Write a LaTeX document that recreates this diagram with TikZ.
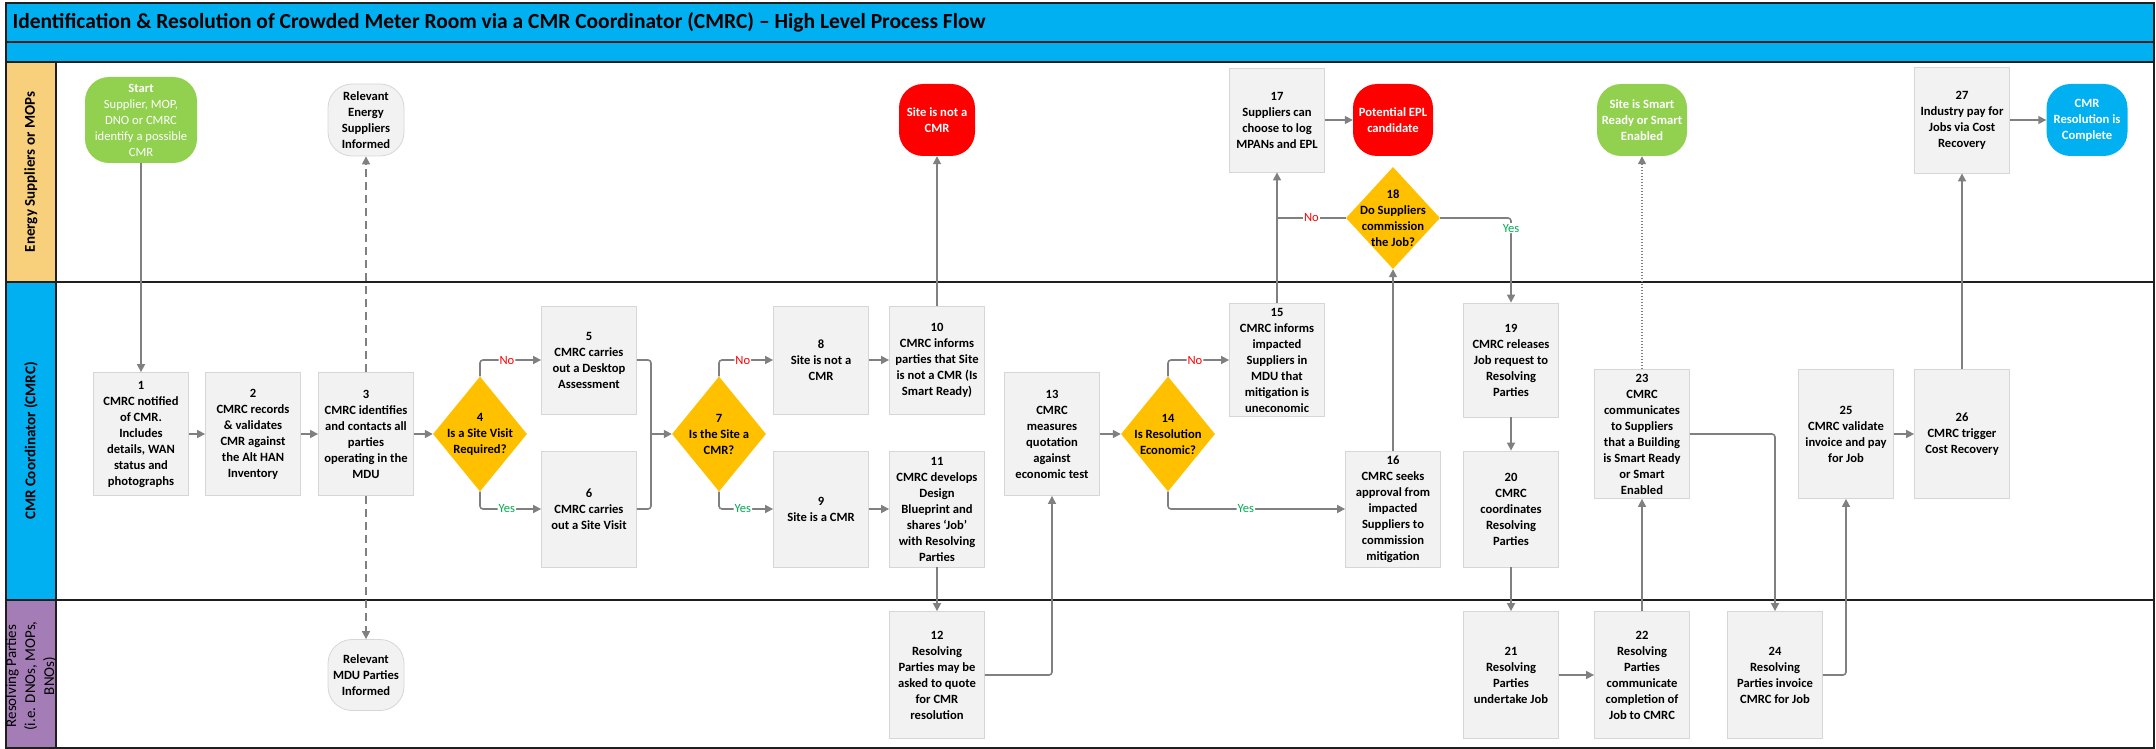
\documentclass[tikz,border=0pt]{standalone}
\usepackage{fontspec}
\setmainfont{Carlito}
\usetikzlibrary{shapes.geometric,arrows.meta}
\definecolor{titleblue}{HTML}{00B0F0}
\definecolor{laneorange}{HTML}{F8D07C}
\definecolor{lanepurple}{HTML}{A47DB6}
\definecolor{decgold}{HTML}{FFC000}
\definecolor{startgreen}{HTML}{92D050}
\definecolor{stopred}{HTML}{FF0000}
\definecolor{boxfill}{HTML}{F2F2F2}
\definecolor{boxline}{HTML}{D6D6D6}
\definecolor{flowgray}{HTML}{808080}
\definecolor{yesgreen}{HTML}{00B050}
\definecolor{framedark}{HTML}{1F1F1F}
\begin{document}
\begin{tikzpicture}[x=1pt,y=-1pt,
	lanebd/.style={draw=framedark,line width=1.6pt},
	procbox/.style={draw=boxline,fill=boxfill,line width=0.8pt,minimum width=95pt,inner sep=0pt,align=center,font=\bfseries\fontsize{12.6}{16}\selectfont},
	termbox/.style={rounded corners=24pt,minimum width=76pt,minimum height=72pt,inner sep=0pt,align=center,text=white,font=\bfseries\fontsize{12.6}{16}\selectfont},
	decision/.style={diamond,fill=decgold,inner sep=0pt,minimum width=94pt,minimum height=115pt},
	dtext/.style={align=center,font=\bfseries\fontsize{12.6}{16}\selectfont},
	flow/.style={draw=flowgray,line width=1.6pt,rounded corners=3pt},
	arr/.style={flow,-{Triangle[length=8pt,width=8pt]}},
	nolbl/.style={fill=white,inner sep=1pt,text=stopred,font=\fontsize{12.6}{14}\selectfont},
	yeslbl/.style={fill=white,inner sep=1pt,text=yesgreen,font=\fontsize{12.6}{14}\selectfont}]
	\useasboundingbox (0,0) rectangle (2156,749);
	%Title bars
	\draw[lanebd,fill=titleblue] (6,3) rectangle (2154,42);
	\draw[lanebd,fill=titleblue] (6,42) rectangle (2154,62);
	\node[anchor=west,font=\bfseries\fontsize{21.5}{25}\selectfont] (title) at (9,22) {Identification \& Resolution of Crowded Meter Room via a CMR Coordinator (CMRC) – High Level Process Flow};
	%Lanes
	\draw[lanebd] (6,62) rectangle (2154,282);
	\draw[lanebd] (6,282) rectangle (2154,600);
	\draw[lanebd] (6,600) rectangle (2154,748);
	\draw[lanebd,fill=laneorange] (6,62) rectangle (56,282);
	\draw[lanebd,fill=titleblue] (6,282) rectangle (56,600);
	\draw[lanebd,fill=lanepurple] (6,600) rectangle (56,748);
	\node[rotate=90,font=\bfseries\fontsize{15}{18}\selectfont] (lane1) at (31,172) {Energy Suppliers or MOPs};
	\node[rotate=90,font=\bfseries\fontsize{15}{18}\selectfont] (lane2) at (31,441) {CMR Coordinator (CMRC)};
	\node[rotate=90,align=center,font=\fontsize{15}{19}\selectfont] (lane3) at (31,676) {Resolving Parties\\(i.e. DNOs, MOPs,\\BNOs)};
	%Energy Suppliers or MOPs
	\node[termbox,fill=startgreen,minimum width=112pt,minimum height=86pt,font=\fontsize{12.6}{16}\selectfont] (start) at (141,120) {\textbf{Start}\\Supplier, MOP,\\DNO or CMRC\\identify a possible\\CMR};
	\node[termbox,fill=boxfill,draw=boxline,line width=0.8pt,text=black] (relsup) at (366,120) {Relevant\\Energy\\Suppliers\\Informed};
	\node[termbox,fill=stopred] (notcmr) at (937,120) {Site is not a\\CMR};
	\node[procbox,minimum height=104pt] (b17) at (1277,120) {17\\Suppliers can\\choose to log\\MPANs and EPL};
	\node[termbox,fill=stopred,minimum width=80pt] (epl) at (1393,120) {Potential EPL\\candidate};
	\node[decision,minimum height=102pt] (d18) at (1393,218) {};
	\node[dtext] (t18) at (d18) {18\\Do Suppliers\\commission\\the Job?};
	\node[termbox,fill=startgreen,minimum width=90pt] (smart) at (1642,120) {Site is Smart\\Ready or Smart\\Enabled};
	\node[procbox,minimum height=106pt] (b27) at (1962,120) {27\\Industry pay for\\Jobs via Cost\\Recovery};
	\node[termbox,fill=titleblue,minimum width=81pt] (done) at (2087,120) {CMR\\Resolution is\\Complete};
	%CMR Coordinator
	\node[procbox,minimum height=123pt] (b1) at (141,434) {1\\CMRC notified\\of CMR.\\Includes\\details, WAN\\status and\\photographs};
	\node[procbox,minimum height=123pt] (b2) at (253,434) {2\\CMRC records\\\& validates\\CMR against\\the Alt HAN\\Inventory};
	\node[procbox,minimum height=123pt] (b3) at (366,434) {3\\CMRC identifies\\and contacts all\\parties\\operating in the\\MDU};
	\node[decision] (d4) at (480,434) {};
	\node[dtext] (t4) at (d4) {4\\Is a Site Visit\\Required?};
	\node[procbox,minimum height=108pt] (b5) at (589,360) {5\\CMRC carries\\out a Desktop\\Assessment};
	\node[procbox,minimum height=116pt] (b6) at (589,509) {6\\CMRC carries\\out a Site Visit};
	\coordinate (m7) at (651,434);
	\node[decision] (d7) at (719,434) {};
	\node[dtext] (t7) at (d7) {7\\Is the Site a\\CMR?};
	\node[procbox,minimum height=108pt] (b8) at (821,360) {8\\Site is not a\\CMR};
	\node[procbox,minimum height=116pt] (b9) at (821,509) {9\\Site is a CMR};
	\node[procbox,minimum height=108pt] (b10) at (937,360) {10\\CMRC informs\\parties that Site\\is not a CMR (Is\\Smart Ready)};
	\node[procbox,minimum height=116pt] (b11) at (937,509) {11\\CMRC develops\\Design\\Blueprint and\\shares ‘Job’\\with Resolving\\Parties};
	\node[procbox,minimum height=123pt] (b13) at (1052,434) {13\\CMRC\\measures\\quotation\\against\\economic test};
	\node[decision] (d14) at (1168,434) {};
	\node[dtext] (t14) at (d14) {14\\Is Resolution\\Economic?};
	\node[procbox,minimum height=113pt] (b15) at (1277,360) {15\\CMRC informs\\impacted\\Suppliers in\\MDU that\\mitigation is\\uneconomic};
	\node[procbox,minimum height=116pt] (b16) at (1393,509) {16\\CMRC seeks\\approval from\\impacted\\Suppliers to\\commission\\mitigation};
	\coordinate (j17) at (b17.south |- d18.west);
	\node[procbox,minimum height=114pt] (b19) at (1511,360) {19\\CMRC releases\\Job request to\\Resolving\\Parties};
	\node[procbox,minimum height=116pt] (b20) at (1511,509) {20\\CMRC\\coordinates\\Resolving\\Parties};
	\node[procbox,minimum height=129pt] (b23) at (1642,434) {23\\CMRC\\communicates\\to Suppliers\\that a Building\\is Smart Ready\\or Smart\\Enabled};
	\node[procbox,minimum height=129pt] (b25) at (1846,434) {25\\CMRC validate\\invoice and pay\\for Job};
	\node[procbox,minimum height=129pt] (b26) at (1962,434) {26\\CMRC trigger\\Cost Recovery};
	%Resolving Parties
	\node[termbox,fill=boxfill,draw=boxline,line width=0.8pt,text=black,minimum height=71pt] (relmdu) at (366,675) {Relevant\\MDU Parties\\Informed};
	\node[procbox,minimum height=127pt] (b12) at (937,675) {12\\Resolving\\Parties may be\\asked to quote\\for CMR\\resolution};
	\node[procbox,minimum height=127pt] (b21) at (1511,675) {21\\Resolving\\Parties\\undertake Job};
	\node[procbox,minimum height=127pt] (b22) at (1642,675) {22\\Resolving\\Parties\\communicate\\completion of\\Job to CMRC};
	\node[procbox,minimum height=127pt] (b24) at (1775,675) {24\\Resolving\\Parties invoice\\CMRC for Job};
	%Connectors
	\draw[arr] (start) -- (b1);
	\draw[arr] (b1) -- (b2);
	\draw[arr] (b2) -- (b3);
	\draw[arr] (b3) -- (d4);
	\draw[arr,dashed,dash pattern=on 8pt off 5pt] (b3.north) -- (relsup.south);
	\draw[arr,dashed,dash pattern=on 8pt off 5pt] (b3.south) -- (relmdu.north);
	\draw[arr] (d4.north) |- node[nolbl,pos=0.72] {No} (b5.west);
	\draw[arr] (d4.south) |- node[yeslbl,pos=0.72] {Yes} (b6.west);
	\draw[flow] (b5.east) -| (m7);
	\draw[flow] (b6.east) -| (m7);
	\draw[arr] (m7) -- (d7.west);
	\draw[arr] (d7.north) |- node[nolbl,pos=0.72] {No} (b8.west);
	\draw[arr] (d7.south) |- node[yeslbl,pos=0.72] {Yes} (b9.west);
	\draw[arr] (b8) -- (b10);
	\draw[arr] (b9) -- (b11);
	\draw[arr] (b10) -- (notcmr);
	\draw[arr] (b11) -- (b12);
	\draw[arr] (b12.east) -| (b13.south);
	\draw[arr] (b13) -- (d14);
	\draw[arr] (d14.north) |- node[nolbl,pos=0.72] {No} (b15.west);
	\draw[arr] (d14.south) |- node[yeslbl,pos=0.72] {Yes} (b16.west);
	\draw[arr] (b15) -- (b17);
	\draw[arr] (b16) -- (d18);
	\draw[flow] (d18.west) -- node[nolbl] {No} (j17);
	\draw[arr] (d18.east) -| node[yeslbl,pos=0.56] {Yes} (b19.north);
	\draw[arr] (b17) -- (epl);
	\draw[arr] (b19) -- (b20);
	\draw[arr] (b20) -- (b21);
	\draw[arr] (b21) -- (b22);
	\draw[arr] (b22) -- (b23);
	\draw[arr,line width=1.2pt,dash pattern=on 1.5pt off 1.5pt] (b23) -- (smart);
	\draw[arr] (b23.east) -| (b24.north);
	\draw[arr] (b24.east) -| (b25.south);
	\draw[arr] (b25) -- (b26);
	\draw[arr] (b26) -- (b27);
	\draw[arr] (b27) -- (done);
\end{tikzpicture}
\end{document}
